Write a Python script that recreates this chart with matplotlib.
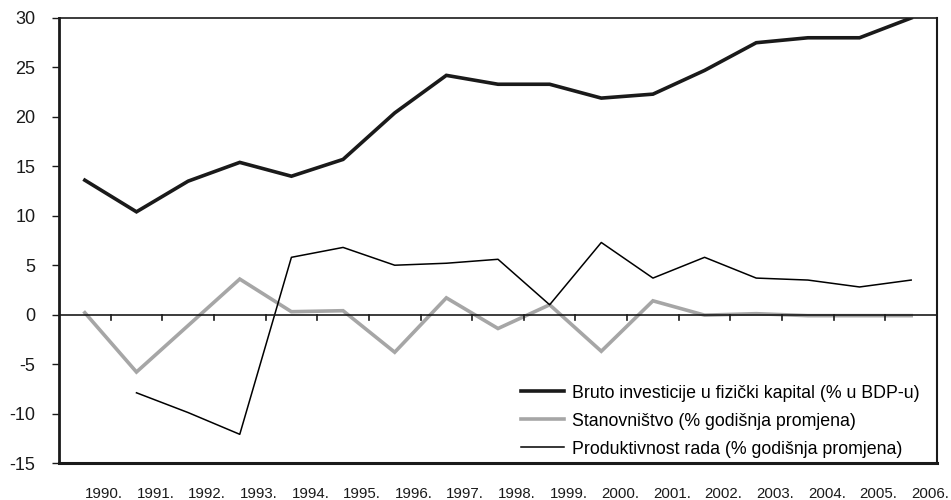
import matplotlib
matplotlib.use("Agg")
import matplotlib.pyplot as plt
import numpy as np

plt.rcParams['font.family'] = ['Liberation Sans', 'DejaVu Sans']

years = [f"{y}." for y in range(1990, 2007)]
investicije = [13.6, 10.4, 13.5, 15.4, 14.0, 15.7, 20.4, 24.2, 23.3, 23.3, 21.9, 22.3, 24.7, 27.5, 28.0, 28.0, 30.0]
stanovnistvo = [0.2, -5.8, -1.1, 3.6, 0.3, 0.4, -3.8, 1.7, -1.4, 1.0, -3.7, 1.4, -0.05, 0.1, -0.1, -0.1, -0.1]
produktivnost = [np.nan, -7.9, -9.9, -12.1, 5.8, 6.8, 5.0, 5.2, 5.6, 1.0, 7.3, 3.7, 5.8, 3.7, 3.5, 2.8, 3.5]

labels = ["Bruto investicije u fizički kapital (% u BDP-u)",
          "Stanovništvo (% godišnja promjena)",
          "Produktivnost rada (% godišnja promjena)"]

fig = plt.figure(figsize=(9.51, 5.0), dpi=100)
ax = fig.add_axes([59/951, 1-463/500, (937-59)/951, (463-18)/500])

n = len(years)
x = np.arange(n) + 0.5
ax.plot(x, investicije, color='#1a1a1a', lw=2.6, label=labels[0], solid_joinstyle='miter')
ax.plot(x, stanovnistvo, color='#a6a6a6', lw=2.6, label=labels[1], solid_joinstyle='miter')
ax.plot(x, produktivnost, color='#000000', lw=1.1, label=labels[2])

ax.set_xlim(0, n)
ax.set_ylim(-15, 30)
ax.set_yticks(np.arange(-15, 31, 5))
ax.set_yticklabels([str(v) for v in range(-15, 31, 5)])
ax.tick_params(axis='y', length=5, width=1, pad=12, labelsize=13, colors='#1a1a1a')
ax.set_xticks([])

# zero line with category tick marks
ax.axhline(0, color='#1a1a1a', lw=1.2)
for k in range(1, n):
    ax.plot([k, k], [0, -0.55], color='#1a1a1a', lw=1.2, clip_on=False)

# category labels at bottom, left-aligned at data points
for xi, lab in zip(x, years):
    ax.annotate(lab, xy=(xi, 0), xycoords=('data', 'axes fraction'),
                xytext=(0, -17), textcoords='offset points',
                ha='left', va='top', fontsize=10.8, color='#1a1a1a')

ax.spines['left'].set_linewidth(2.0)
ax.spines['bottom'].set_linewidth(2.2)
ax.spines['right'].set_linewidth(1.5)
ax.spines['top'].set_linewidth(1.2)
for s in ax.spines.values():
    s.set_color('#1a1a1a')

leg = ax.legend(loc='lower right', frameon=False, fontsize=12.8, handlelength=2.4,
                handletextpad=0.45, labelspacing=0.62, borderaxespad=0.0,
                borderpad=0.3, bbox_to_anchor=(0.986, 0.0))

fig.savefig("out.png", dpi=100)
